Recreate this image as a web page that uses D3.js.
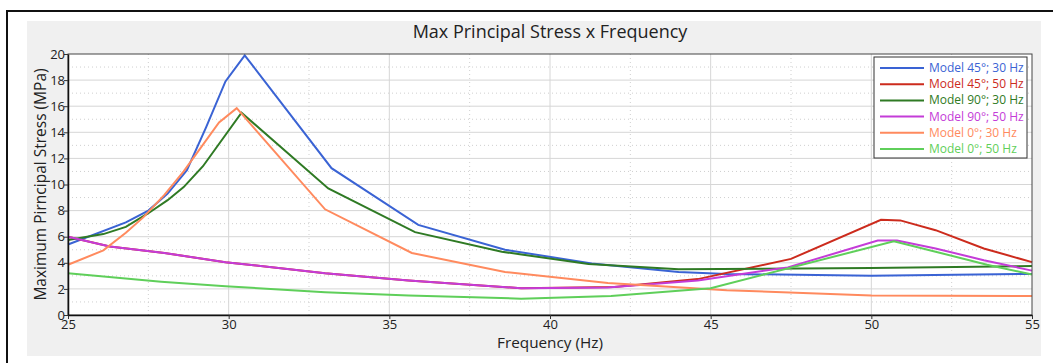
<!DOCTYPE html>
<html>
<head>
<meta charset="utf-8">
<script src="https://cdn.jsdelivr.net/npm/d3@7"></script>
<style>
  body { margin: 0; background: #fff; }
  text { font-family: "Open Sans", "Noto Sans", sans-serif; fill: #222; }
</style>
</head>
<body>
<svg id="chart" width="1053" height="363"></svg>
<script>
// series data (frequency in Hz, stress in MPa)
var blueF = [25, 26.8, 27.5, 28.1, 28.7, 29.3, 29.9, 30.5, 33.2, 35.9, 38.6, 41.3, 44, 45.5, 50, 55]
var blueV = [5.4, 7.1, 8.0, 9.3, 11.1, 14.4, 17.9, 19.9, 11.25, 6.9, 5.0, 3.95, 3.3, 3.15, 3.0, 3.15]

var redF = [25, 26.3, 28, 29.9, 33, 35.6, 39.1, 42, 44.6, 47.5, 50.3, 50.9, 52, 53.5, 55]
var redV = [6.0, 5.25, 4.75, 4.05, 3.2, 2.65, 2.05, 2.15, 2.75, 4.3, 7.3, 7.25, 6.5, 5.1, 4.05]

var dkGreenF = [25, 26.1, 26.8, 27.5, 28.1, 28.6, 29.2, 30.4, 33.1, 35.8, 38.5, 41.2, 44, 50, 55]
var dkGreenV = [5.75, 6.2, 6.75, 7.8, 8.8, 9.8, 11.4, 15.5, 9.7, 6.35, 4.85, 3.9, 3.5, 3.6, 3.75]

var magentaF = [25, 26.3, 28, 29.9, 33, 35.6, 39.1, 41.8, 44.6, 47.4, 50.2, 50.8, 52, 53.5, 55]
var magentaV = [6.0, 5.25, 4.75, 4.05, 3.2, 2.65, 2.05, 2.1, 2.65, 3.65, 5.7, 5.7, 5.1, 4.2, 3.4]

var orangeF = [25, 26.1, 26.8, 27.35, 28, 28.6, 29.7, 30.25, 33.0, 35.7, 38.6, 41.8, 45.5, 50, 55]
var orangeV = [3.85, 4.95, 6.3, 7.5, 9.2, 11.0, 14.75, 15.85, 8.1, 4.75, 3.3, 2.45, 1.9, 1.5, 1.45]

var ltGreenF = [25, 27.9, 29.9, 33, 35.6, 39.1, 41.9, 45, 50.7, 52, 53.6, 55]
var ltGreenV = [3.2, 2.55, 2.2, 1.75, 1.5, 1.25, 1.45, 2.05, 5.65, 4.85, 3.85, 3.1]

var seriesNames = ["Model 45°; 30 Hz", "Model 45°; 50 Hz", "Model 90°; 30 Hz",
                   "Model 90°; 50 Hz", "Model 0°; 30 Hz", "Model 0°; 50 Hz"]
var seriesColors = ["#3a63d4", "#cc2b1d", "#2f7a24", "#c43cd8", "#ff8a5e", "#5fcf5a"]
var xTicks = [25, 30, 35, 40, 45, 50, 55]
var yTicks = [0, 2, 4, 6, 8, 10, 12, 14, 16, 18, 20]

drawChart()

function drawChart() {
  var allF = [blueF, redF, dkGreenF, magentaF, orangeF, ltGreenF]
  var allV = [blueV, redV, dkGreenV, magentaV, orangeV, ltGreenV]
  var series = seriesNames.map((n, i) => ({
    name: n, color: seriesColors[i],
    pts: allF[i].map((f, j) => [f, allV[i][j]])
  }))

  var svg = d3.select("#chart")
  var pLeft = 68, pRight = 1032, pTop = 54, pBottom = 315

  // frame + grey panel
  svg.append("rect").attr("x", 7).attr("y", 11).attr("width", 1100).attr("height", 400)
    .style("fill", "#fff").style("stroke", "#111").style("stroke-width", 2)
  svg.append("rect").attr("x", 27).attr("y", 21).attr("width", 1014).attr("height", 335)
    .style("fill", "#f0f0f0")
  svg.append("rect").attr("x", pLeft).attr("y", pTop).attr("width", pRight - pLeft).attr("height", pBottom - pTop)
    .style("fill", "#fff")

  var x = d3.scaleLinear().domain([25, 55]).range([pLeft, pRight])
  var y = d3.scaleLinear().domain([0, 20]).range([pBottom, pTop])

  // grid: solid majors, dotted minors
  var grid = svg.append("g")
  d3.range(27.5, 55, 5).forEach(f => {
    grid.append("line").attr("x1", x(f)).attr("x2", x(f)).attr("y1", pTop).attr("y2", pBottom)
      .style("stroke", "#cfcfcf").style("stroke-dasharray", "1,3")
  })
  d3.range(1, 20, 2).forEach(v => {
    grid.append("line").attr("x1", pLeft).attr("x2", pRight).attr("y1", y(v)).attr("y2", y(v))
      .style("stroke", "#cfcfcf").style("stroke-dasharray", "1,3")
  })
  xTicks.slice(1, -1).forEach(f => {
    grid.append("line").attr("x1", x(f)).attr("x2", x(f)).attr("y1", pTop).attr("y2", pBottom)
      .style("stroke", "#d6d6d6")
  })
  yTicks.slice(1, -1).forEach(v => {
    grid.append("line").attr("x1", pLeft).attr("x2", pRight).attr("y1", y(v)).attr("y2", y(v))
      .style("stroke", "#d6d6d6")
  })

  // lines
  var line = d3.line().x(d => x(d[0])).y(d => y(d[1]))
  svg.append("g").selectAll("path").data(series).enter().append("path")
    .attr("d", d => line(d.pts))
    .style("fill", "none").style("stroke", d => d.color).style("stroke-width", 2)

  // plot border
  svg.append("rect").attr("x", pLeft).attr("y", pTop).attr("width", pRight - pLeft).attr("height", pBottom - pTop)
    .style("fill", "none").style("stroke", "#444").style("stroke-width", 1)

  // axes
  var xAxis = d3.axisBottom(x).tickValues(xTicks).tickSize(4).tickSizeOuter(0)
  var gx = svg.append("g").attr("transform", "translate(0," + pBottom + ")").call(xAxis)
  var yAxis = d3.axisLeft(y).tickValues(yTicks).tickSize(4).tickSizeOuter(0)
  var gy = svg.append("g").attr("transform", "translate(" + pLeft + ",0)").call(yAxis)
  ;[gx, gy].forEach(g => {
    g.select(".domain").style("stroke", "#111").style("stroke-width", 1.5)
    g.selectAll(".tick line").style("stroke", "#333")
    g.selectAll("text").style("font-family", "Open Sans").style("font-size", "13px").style("fill", "#222")
  })
  gx.selectAll("text").attr("dy", "0.55em")
  gy.selectAll("text").attr("x", -3)

  // title and axis labels
  svg.append("text").attr("x", 550).attr("y", 38).attr("text-anchor", "middle")
    .style("font-size", "18px").text("Max Principal Stress x Frequency")
  svg.append("text").attr("x", 550).attr("y", 348).attr("text-anchor", "middle")
    .style("font-size", "15.3px").text("Frequency (Hz)")
  svg.append("text").attr("transform", "translate(46," + ((pTop + pBottom) / 2) + ") rotate(-90)")
    .attr("text-anchor", "middle").style("font-size", "15.5px").text("Maximum Pirncipal Stress (MPa)")

  // legend
  var lg = svg.append("g")
  lg.append("rect").attr("x", 874).attr("y", 57).attr("width", 153).attr("height", 101)
    .style("fill", "#fff").style("stroke", "#333").style("stroke-width", 1)
  var rows = lg.selectAll("g.row").data(series).enter().append("g").attr("class", "row")
    .attr("transform", (d, i) => "translate(0," + (68 + i * 16.2) + ")")
  rows.append("line").attr("x1", 880).attr("x2", 924).attr("y1", 0).attr("y2", 0)
    .style("stroke", d => d.color).style("stroke-width", 2)
  rows.append("text").attr("x", 929).attr("y", 4).style("font-size", "12px")
    .style("fill", d => d.color).text(d => d.name)
}
</script>
</body>
</html>
